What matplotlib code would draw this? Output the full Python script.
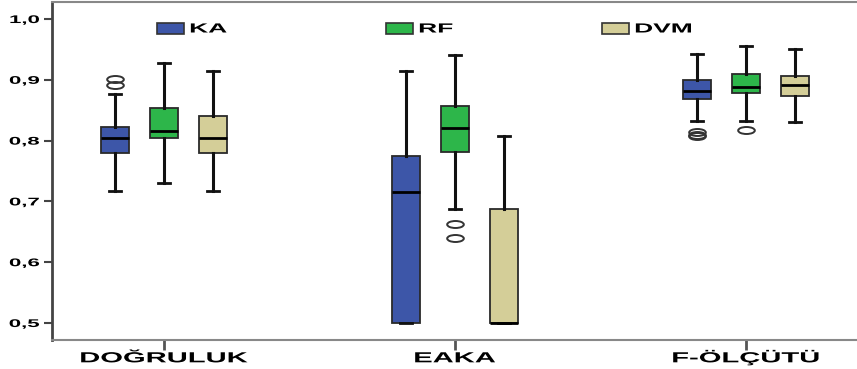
import matplotlib
matplotlib.use("Agg")
import matplotlib.pyplot as plt
from matplotlib.patches import Rectangle
from matplotlib.patheffects import AbstractPathEffect
from matplotlib.transforms import Affine2D
from matplotlib.path import Path
from matplotlib.markers import MarkerStyle

categories = ["DOĞRULUK", "EAKA", "F-ÖLÇÜTÜ"]
methods = ["KA", "RF", "DVM"]
colors = ["#3D56A8", "#2DB64A", "#D4CE98"]

# per method: values for each category [DOĞRULUK, EAKA, F-ÖLÇÜTÜ]
ka_whislo = [0.717, 0.500, 0.832]
ka_q1 = [0.779, 0.500, 0.869]
ka_med = [0.804, 0.715, 0.882]
ka_q3 = [0.822, 0.774, 0.899]
ka_whishi = [0.877, 0.915, 0.943]
ka_fliers = [[0.891, 0.902], [], [0.807, 0.810, 0.814]]

rf_whislo = [0.730, 0.688, 0.833]
rf_q1 = [0.804, 0.781, 0.879]
rf_med = [0.816, 0.821, 0.888]
rf_q3 = [0.853, 0.857, 0.910]
rf_whishi = [0.928, 0.941, 0.956]
rf_fliers = [[], [0.639, 0.662], [0.818]]

dvm_whislo = [0.717, 0.500, 0.830]
dvm_q1 = [0.779, 0.500, 0.873]
dvm_med = [0.804, 0.500, 0.892]
dvm_q3 = [0.840, 0.688, 0.906]
dvm_whishi = [0.915, 0.808, 0.950]
dvm_fliers = [[], [], []]

ytick_vals = [0.5, 0.6, 0.7, 0.8, 0.9, 1.0]
ytick_labels = ["0,5", "0,6", "0,7", "0,8", "0,9", "1,0"]

series = [
    (ka_whislo, ka_q1, ka_med, ka_q3, ka_whishi, ka_fliers),
    (rf_whislo, rf_q1, rf_med, rf_q3, rf_whishi, rf_fliers),
    (dvm_whislo, dvm_q1, dvm_med, dvm_q3, dvm_whishi, dvm_fliers),
]


class Stretch(AbstractPathEffect):
    """Stretch text horizontally about an anchor (left / center / right)."""

    def __init__(self, sx=2.0, anchor="center"):
        super().__init__()
        self.sx = sx
        self.anchor = anchor

    def draw_path(self, renderer, gc, tpath, affine, rgbFace=None):
        ext = tpath.get_extents()
        if self.anchor == "left":
            cx = ext.x0
        elif self.anchor == "right":
            cx = ext.x1
        else:
            cx = 0.5 * (ext.x0 + ext.x1)
        tr = Affine2D().translate(-cx, 0).scale(self.sx, 1.0).translate(cx, 0) + affine
        renderer.draw_path(gc, tpath, tr, rgbFace)


FONT = "Liberation Sans"
SX = 2.0

fig = plt.figure(figsize=(8.57, 3.69), dpi=100)
ax = fig.add_axes([52 / 857, 29 / 369, 806 / 857, 338 / 369])

ellipse = Path.unit_circle().transformed(Affine2D().scale(1.0, 0.42))
flier_marker = MarkerStyle(ellipse)

offset = 0.168
width = 0.096
for mi, (wl, q1, med, q3, wh, fl) in enumerate(series):
    stats = []
    for ci in range(len(categories)):
        stats.append(dict(whislo=wl[ci], q1=q1[ci], med=med[ci], q3=q3[ci],
                          whishi=wh[ci], fliers=fl[ci]))
    pos = [ci + (mi - 1) * offset for ci in range(len(categories))]
    ax.bxp(stats, positions=pos, widths=width, patch_artist=True,
           showfliers=True, manage_ticks=False,
           boxprops=dict(facecolor=colors[mi], edgecolor="#2a2a2a", linewidth=1.3),
           medianprops=dict(color="black", linewidth=2),
           whiskerprops=dict(color="#111111", linewidth=2.2),
           capprops=dict(color="#111111", linewidth=2),
           capwidths=width * 0.45,
           flierprops=dict(marker=flier_marker, markerfacecolor="none",
                           markeredgecolor="#333333", markersize=12,
                           markeredgewidth=1.4))

ax.set_xlim(-0.385, 2.385)
ax.set_ylim(0.472, 1.028)
ax.set_yticks(ytick_vals)
ax.set_yticklabels(ytick_labels, fontsize=8, fontweight="bold", family=FONT)
for lab in ax.get_yticklabels():
    lab.set_path_effects([Stretch(SX, "right")])
ax.set_xticks(range(len(categories)))
ax.set_xticklabels([])
ax.tick_params(axis="y", length=6, width=1.5, color="#444444", pad=3)
ax.tick_params(axis="x", length=7, width=2, color="#555555")

for ci, cat in enumerate(categories):
    ax.text(ci, -0.066, cat, transform=ax.get_xaxis_transform(),
            ha="center", va="baseline", fontsize=10.5, fontweight="bold",
            family=FONT, path_effects=[Stretch(SX, "center")])

for side in ["top", "bottom"]:
    ax.spines[side].set_color("#888888")
    ax.spines[side].set_linewidth(1.5)
ax.spines["right"].set_visible(False)
ax.spines["left"].set_color("#444444")
ax.spines["left"].set_linewidth(2)

# legend entries
leg_x = [157, 386, 602]
for mi, name in enumerate(methods):
    x0 = (leg_x[mi] - 52) / 806
    y0 = (369 - 34 - 29) / 338
    ax.add_patch(Rectangle((x0, y0), 27 / 806, 11 / 338, transform=ax.transAxes,
                           facecolor=colors[mi], edgecolor="#333333",
                           linewidth=1.2, clip_on=False))
    ax.text(x0 + 33 / 806, y0 + 1.5 / 338, name, transform=ax.transAxes,
            fontsize=9.5, fontweight="bold", family=FONT,
            va="baseline", ha="left", path_effects=[Stretch(SX, "left")])

fig.savefig("out.png", dpi=100)
